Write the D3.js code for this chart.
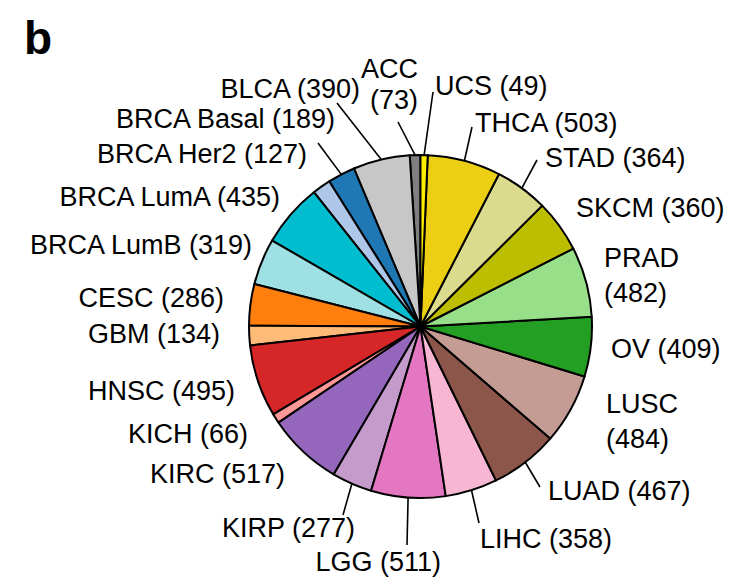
<!DOCTYPE html>
<html><head><meta charset="utf-8">
<script src="https://cdn.jsdelivr.net/npm/d3@7"></script>
<style>body{margin:0;background:#fff}svg{display:block}text{font-family:"Liberation Sans",Arial,Helvetica,sans-serif}</style>
</head><body>
<script>
// Data (alphabetical; drawn counter-clockwise from 12 o'clock)
const categories = ["ACC","BLCA","BRCA Basal","BRCA Her2","BRCA LumA","BRCA LumB","CESC","GBM","HNSC","KICH","KIRC","KIRP","LGG","LIHC","LUAD","LUSC","OV","PRAD","SKCM","STAD","THCA","UCS"];
const counts = [73,390,189,127,435,319,286,134,495,66,517,277,511,358,467,484,409,482,360,364,503,49];
const colors = ["#7f7f7f","#c7c7c7","#1f77b4","#aec7e8","#00bdd0","#9fe0e4","#ff7f0e","#ffbb78","#d62728","#ff9896","#9467bd","#c59bcb","#e377c2","#f7b6d2","#8c564b","#c49c94","#23a023","#98df8a","#bebe00","#dbdb8d","#ecce13","#ffee00"];

// Label layout (annotation placement only)
const labelLayout = {
  "ACC":        {x:418, y:[78,109], anchor:"end", split:true, leader:[398,122]},
  "BLCA":       {x:360, y:[98], anchor:"end", leader:[337,103]},
  "BRCA Basal": {x:335, y:[128], anchor:"end", leader:[318,143]},
  "BRCA Her2":  {x:307, y:[163], anchor:"end"},
  "BRCA LumA":  {x:280, y:[206], anchor:"end"},
  "BRCA LumB":  {x:252, y:[254], anchor:"end"},
  "CESC":       {x:224, y:[307], anchor:"end"},
  "GBM":        {x:220, y:[343], anchor:"end"},
  "HNSC":       {x:235, y:[400], anchor:"end"},
  "KICH":       {x:248, y:[443], anchor:"end"},
  "KIRC":       {x:285, y:[483], anchor:"end"},
  "KIRP":       {x:355, y:[537], anchor:"end", leader:[343,515]},
  "LGG":        {x:441, y:[571], anchor:"end", leader:[407,545]},
  "LIHC":       {x:480, y:[548], anchor:"start", leader:[479,523]},
  "LUAD":       {x:548, y:[500], anchor:"start", leader:[540,487]},
  "LUSC":       {x:606, y:[413,448], anchor:"start", split:true},
  "OV":         {x:611, y:[358], anchor:"start"},
  "PRAD":       {x:604, y:[267,302], anchor:"start", split:true},
  "SKCM":       {x:576, y:[217], anchor:"start"},
  "STAD":       {x:545, y:[167], anchor:"start", leader:[537,160]},
  "THCA":       {x:475, y:[132], anchor:"start", leader:[472,127]},
  "UCS":        {x:435, y:[95], anchor:"start", leader:[433,92]}
};

const W = 740, H = 588;
const cx = 420.5, cy = 326.5, R = 171.5;

const svg = d3.select("body").append("svg").attr("width", W).attr("height", H);

svg.append("text").attr("x", 24).attr("y", 54)
  .attr("font-size", 46).attr("font-weight", "bold").text("b");

const data = categories.map((c, i) => ({name: c, value: counts[i], color: colors[i]}));
const pie = d3.pie().sort(null).value(d => d.value).startAngle(0).endAngle(-2 * Math.PI);
const arcs = pie(data);
const arc = d3.arc().innerRadius(0).outerRadius(R);

const g = svg.append("g").attr("transform", `translate(${cx},${cy})`);
g.selectAll("path").data(arcs).join("path")
  .attr("d", arc)
  .attr("fill", d => d.data.color)
  .attr("stroke", "#000").attr("stroke-width", 2).attr("stroke-linejoin", "round");

// leader lines and labels
arcs.forEach(a => {
  const L = labelLayout[a.data.name];
  const mid = (a.startAngle + a.endAngle) / 2;
  if (L.leader) {
    const sx = cx + R * Math.sin(mid), sy = cy - R * Math.cos(mid);
    svg.append("line")
      .attr("x1", sx).attr("y1", sy)
      .attr("x2", L.leader[0]).attr("y2", L.leader[1])
      .attr("stroke", "#000").attr("stroke-width", 1.6);
  }
  const lines = L.split ? [a.data.name, `(${a.data.value})`] : [`${a.data.name} (${a.data.value})`];
  lines.forEach((t, i) => {
    svg.append("text").attr("x", L.x).attr("y", L.y[i])
      .attr("text-anchor", L.anchor).attr("font-size", 27).attr("fill", "#000").text(t);
  });
});
</script>
</body></html>
